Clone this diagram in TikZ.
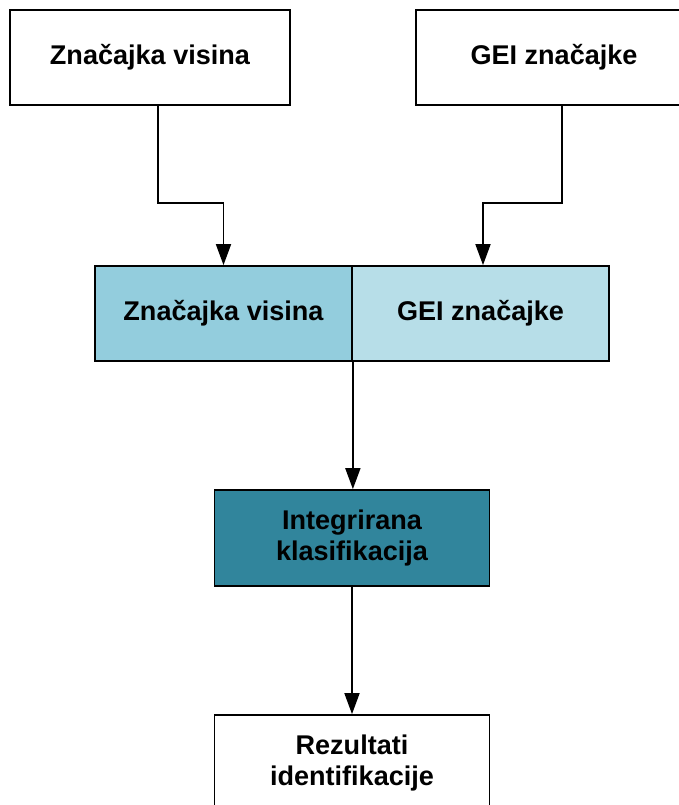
\documentclass[tikz,border=0pt]{standalone}
\usepackage{fontspec}
\setmainfont{Liberation Sans}
\usetikzlibrary{arrows.meta}
\definecolor{visinaBlue}{HTML}{93CDDD}
\definecolor{geiBlue}{HTML}{B7DEE8}
\definecolor{tealBox}{HTML}{31859C}
\begin{document}
\begin{tikzpicture}[
		scale=1,
		every node/.style={rectangle, draw, line width=1pt, minimum height=1.9cm, align=center,
			font=\fontsize{15.4}{17.6}\selectfont\bfseries},
		arr/.style={line width=1pt, -{Triangle[length=0.42cm, width=0.3cm]}}
	]
  \useasboundingbox (0cm, 0cm) rectangle (13.58cm, -16.1cm);
  \node (z_v) [minimum width=5.6cm] at (3cm, -1.15cm) {Značajka visina};
  \node (g_z) [minimum width=5.52cm] at (11.08cm, -1.15cm) {GEI značajke};
  \node (m_zv) [minimum width=5.14cm, fill=visinaBlue] at (4.47cm, -6.27cm) {Značajka visina};
  \node (m_gz) [minimum width=5.14cm, fill=geiBlue] at (9.61cm, -6.27cm) {GEI značajke};
  \node (i_k) [minimum width=5.5cm, minimum height=1.92cm, fill=tealBox] at (7.04cm, -10.76cm) {Integrirana\\klasifikacija};
  \node (r_i) [minimum width=5.5cm, minimum height=1.92cm] at (7.04cm, -15.26cm) {Rezultati\\identifikacije};
  \draw [arr] ([xshift=0.16cm]z_v.south) -- ++(0, -1.94cm) -| (m_zv.north);
  \draw [arr] ([xshift=0.16cm]g_z.south) -- ++(0, -1.94cm) -| ([xshift=0.05cm]m_gz.north);
  \draw [arr] (m_zv.south east) -- (m_zv.south east |- i_k.north);
  \draw [arr] (i_k) -- (r_i);
\end{tikzpicture}
\end{document}
